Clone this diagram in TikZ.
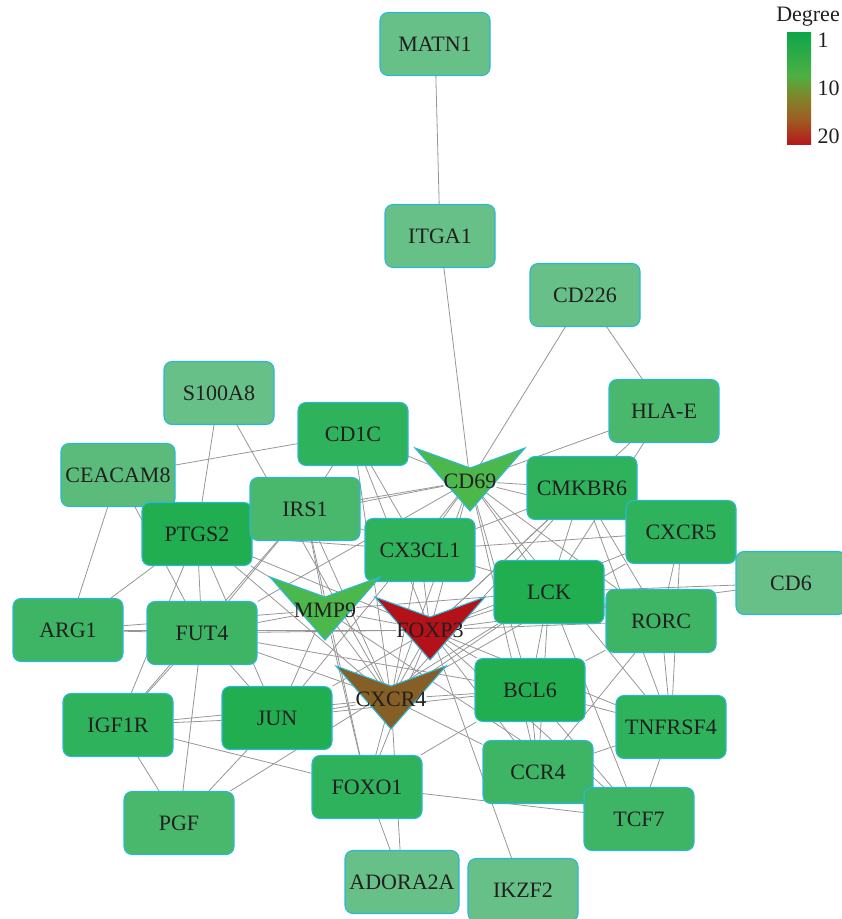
\documentclass[tikz,border=0pt]{standalone}
\usepackage{fontspec}
\setmainfont{Liberation Serif}
\usetikzlibrary{backgrounds}

\definecolor{lite}{HTML}{67C087}
\definecolor{midA}{HTML}{5ABB7B}
\definecolor{midB}{HTML}{49B86C}
\definecolor{midC}{HTML}{3DB565}
\definecolor{midD}{HTML}{2EB25B}
\definecolor{dark}{HTML}{21AE51}
\definecolor{hubgreen}{HTML}{4CB84B}
\definecolor{hubred}{HTML}{B41218}
\definecolor{hubbrown}{HTML}{865F26}
\definecolor{rim}{HTML}{2BB8D8}
\definecolor{ink}{HTML}{231F20}
\definecolor{wire}{HTML}{969696}
\definecolor{barA}{HTML}{0EA64A}
\definecolor{barB}{HTML}{4DB043}
\definecolor{barC}{HTML}{7B8A2B}
\definecolor{barD}{HTML}{A05A22}
\definecolor{barE}{HTML}{B5161B}

\pgfdeclareverticalshading{degreebar}{100bp}{%
  color(0bp)=(barE); color(25bp)=(barE); color(36bp)=(barD); color(47.5bp)=(barC);
  color(56bp)=(barB); color(75bp)=(barA); color(100bp)=(barA)}

% hub gene: chevron drawn round its label
\newcommand\hubgene[4]{%
  \filldraw[hub,fill=#4] (#2) ++(-55,-33) -- ++(55,20) -- ++(55,-20) -- ++(-55,63) -- cycle;
  \node[hubtext] (#1) at (#2) {#3};}

\begin{document}
\begin{tikzpicture}[x=0.75pt,y=-0.75pt,
  gene/.style={rectangle,rounded corners=6pt,draw=rim,line width=0.8pt,
    minimum width=82.5pt,minimum height=47.25pt,text=ink,font=\fontsize{16.5}{18}\selectfont},
  hub/.style={draw=rim,line width=0.8pt,line join=miter},
  hubtext/.style={text=ink,inner sep=0pt,font=\fontsize{16.5}{18}\selectfont},
  edge/.style={draw=wire,line width=0.6pt}]
\useasboundingbox (0,0) rectangle (841,919);

\node[gene,fill=lite] (MATN1) at (435,44) {MATN1};
\node[gene,fill=lite] (ITGA1) at (440,236) {ITGA1};
\node[gene,fill=lite] (CD226) at (585,295) {CD226};
\node[gene,fill=midB] (HLAE) at (664,411) {HLA-E};
\node[gene,fill=lite] (S100A8) at (219,393) {S100A8};
\node[gene,fill=midD] (CD1C) at (353,434) {CD1C};
\node[gene,fill=midA] (CEACAM8) at (118,475) {CEACAM8};
\node[gene,fill=dark] (PTGS2) at (197,534) {PTGS2};
\node[gene,fill=midB] (IRS1) at (305,509) {IRS1};
\node[gene,fill=midD] (CX3CL1) at (420,550) {CX3CL1};
\node[gene,fill=midD] (CMKBR6) at (582,488) {CMKBR6};
\node[gene,fill=midD] (CXCR5) at (681,532) {CXCR5};
\node[gene,fill=lite] (CD6) at (791,583) {CD6};
\node[gene,fill=dark] (LCK) at (549,592) {LCK};
\node[gene,fill=midC] (RORC) at (661,621) {RORC};
\node[gene,fill=midC] (ARG1) at (68,630) {ARG1};
\node[gene,fill=midC] (FUT4) at (202,633) {FUT4};
\node[gene,fill=midD] (IGF1R) at (118,725) {IGF1R};
\node[gene,fill=dark] (JUN) at (277,718) {JUN};
\node[gene,fill=dark] (BCL6) at (530,690) {BCL6};
\node[gene,fill=midD] (TNFRSF4) at (671,727) {TNFRSF4};
\node[gene,fill=midC] (CCR4) at (538,772) {CCR4};
\node[gene,fill=midC] (TCF7) at (639,819) {TCF7};
\node[gene,fill=midD] (FOXO1) at (367,787) {FOXO1};
\node[gene,fill=midB] (PGF) at (179,823) {PGF};
\node[gene,fill=lite] (ADORA2A) at (402,882) {ADORA2A};
\node[gene,fill=lite] (IKZF2) at (523,890) {IKZF2};

\hubgene{CD69}{470,481}{CD69}{hubgreen}
\hubgene{MMP9}{325,610}{MMP9}{hubgreen}
\hubgene{FOXP3}{430,630}{FOXP3}{hubred}
\hubgene{CXCR4}{391,699}{CXCR4}{hubbrown}

% legend
\node[text=ink,font=\fontsize{16.5}{18}\selectfont] (degtitle) at (808,17) {Degree};
\shade[shading=degreebar] (787,33) rectangle (811,145);
\node[text=ink,anchor=west,font=\fontsize{16.5}{18}\selectfont] (deg1) at (813,40) {1};
\node[text=ink,anchor=west,font=\fontsize{16.5}{18}\selectfont] (deg10) at (813,88) {10};
\node[text=ink,anchor=west,font=\fontsize{16.5}{18}\selectfont] (deg20) at (813,136) {20};

% interactions
\begin{scope}[on background layer]
\foreach \a/\b in {MATN1/ITGA1, ITGA1/CD69, CD226/CD69, CD226/HLAE, HLAE/CD69, HLAE/LCK,
  HLAE/FOXP3, S100A8/PTGS2, S100A8/CXCR4, CEACAM8/CD1C, CEACAM8/ARG1, CEACAM8/FUT4,
  CD1C/CD69, CD1C/IRS1, CD1C/CX3CL1, CD1C/FOXP3, CD1C/CXCR4, PTGS2/ARG1, PTGS2/FUT4,
  PTGS2/IGF1R, PTGS2/JUN, PTGS2/CX3CL1, PTGS2/MMP9, PTGS2/FOXP3, PTGS2/CXCR4, PTGS2/CD69,
  IRS1/CX3CL1, IRS1/FUT4, IRS1/IGF1R, IRS1/MMP9, IRS1/CXCR4, IRS1/FOXO1, IRS1/CD69,
  ARG1/FUT4, ARG1/FOXP3, ARG1/MMP9, FUT4/MMP9, FUT4/FOXP3, FUT4/CXCR4, FUT4/JUN,
  FUT4/IGF1R, FUT4/PGF, FUT4/CD69, FUT4/BCL6, IGF1R/JUN, IGF1R/CXCR4, IGF1R/FOXO1,
  IGF1R/PGF, PGF/JUN, PGF/LCK, JUN/CXCR4, JUN/FOXP3, JUN/MMP9, JUN/CD69, JUN/BCL6,
  FOXO1/CXCR4, FOXO1/FOXP3, FOXO1/MMP9, FOXO1/TCF7, FOXO1/ADORA2A, FOXO1/BCL6,
  ADORA2A/CXCR4, IKZF2/FOXP3, CX3CL1/CD69, CX3CL1/MMP9, CX3CL1/FOXP3, CX3CL1/CXCR4,
  CX3CL1/CXCR5, CX3CL1/CMKBR6, CX3CL1/RORC, CD69/CMKBR6, CD69/CXCR5, CD69/LCK, CD69/RORC,
  CD69/BCL6, CD69/TNFRSF4, CD69/FOXP3, CD69/CXCR4, CD69/CCR4, CMKBR6/LCK, CMKBR6/FOXP3,
  CMKBR6/RORC, CMKBR6/TNFRSF4, CMKBR6/CXCR4, CXCR5/RORC, CXCR5/FOXP3, CXCR5/TNFRSF4,
  CXCR5/CXCR4, CD6/LCK, CD6/FOXP3, LCK/FOXP3, LCK/CXCR4, LCK/BCL6, LCK/RORC, LCK/TCF7,
  LCK/CCR4, LCK/MMP9, RORC/FOXP3, RORC/TNFRSF4, RORC/BCL6, RORC/CCR4, BCL6/FOXP3,
  BCL6/CXCR4, BCL6/TNFRSF4, BCL6/CCR4, BCL6/TCF7, TNFRSF4/FOXP3, TNFRSF4/TCF7,
  TNFRSF4/CCR4, CCR4/FOXP3, CCR4/CXCR4, CCR4/TCF7, TCF7/FOXP3, TCF7/MMP9, MMP9/FOXP3,
  MMP9/CXCR4, FOXP3/CXCR4}
  \draw[edge] (\a) -- (\b);
\end{scope}
\end{tikzpicture}
\end{document}
